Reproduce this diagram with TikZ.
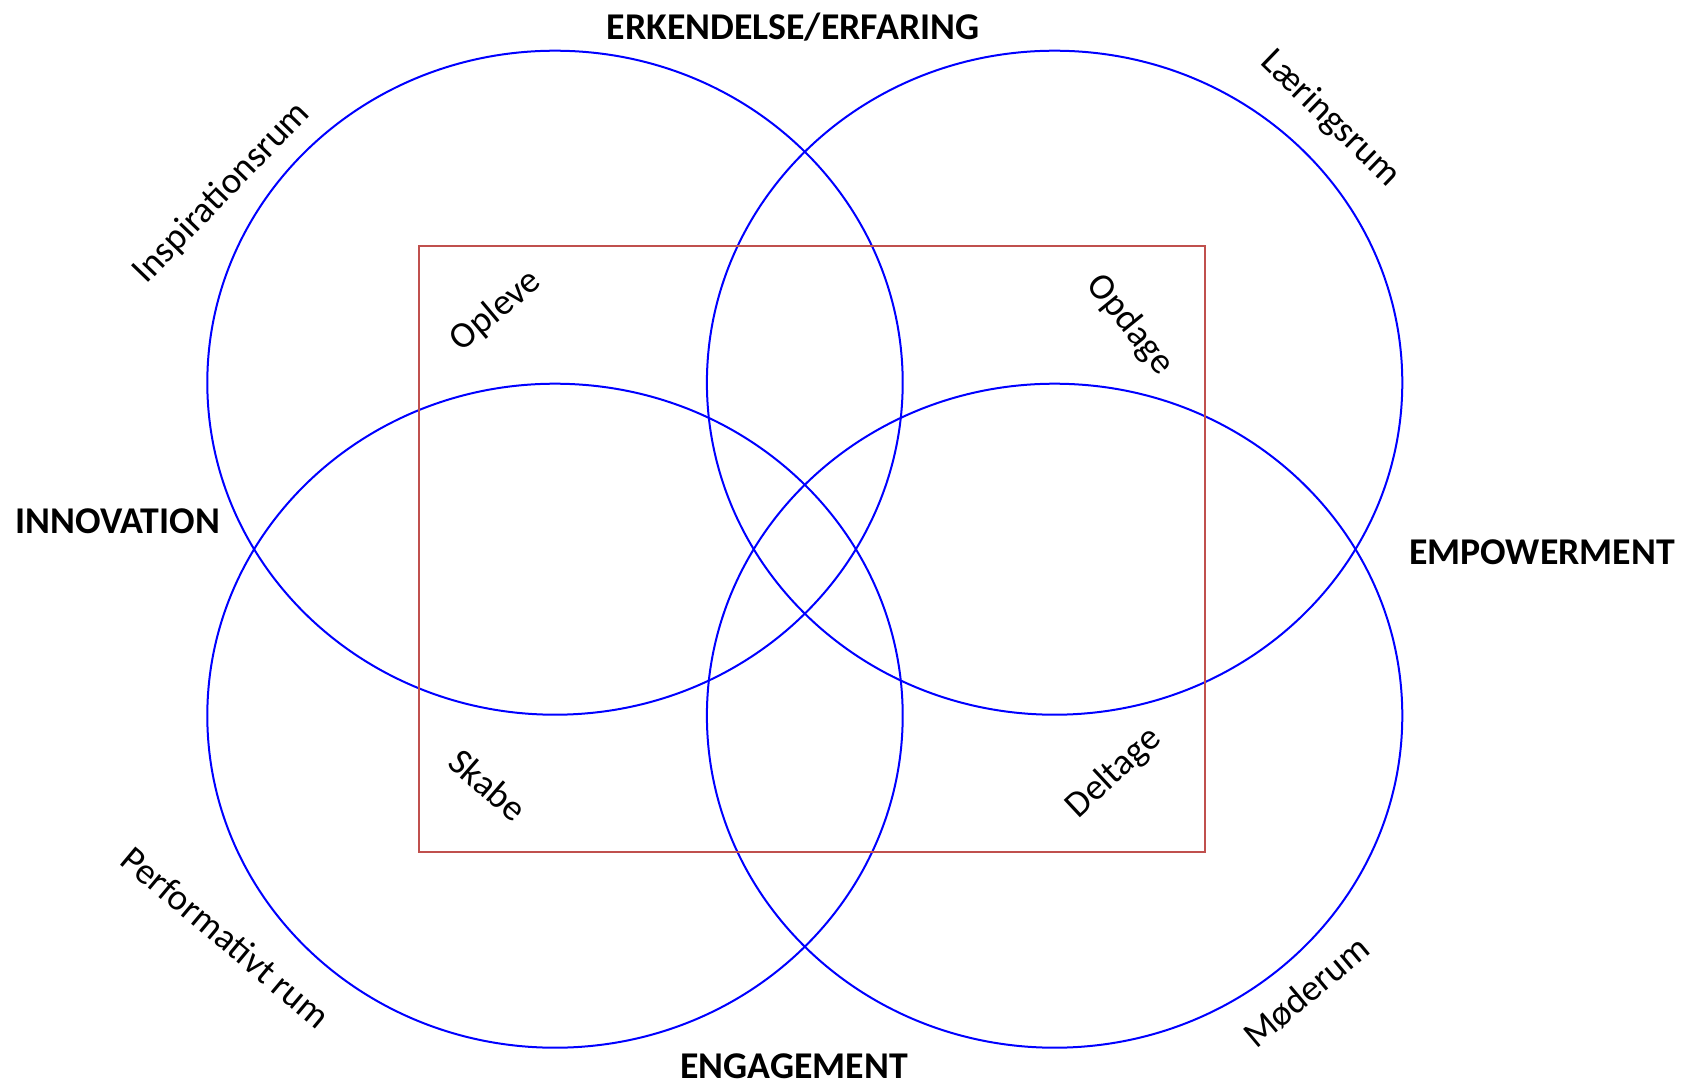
\documentclass[tikz,border=0pt]{standalone}
\usepackage{fontspec}
\setmainfont{Carlito}
\definecolor{ringblue}{RGB}{0,0,255}
\definecolor{boxred}{RGB}{192,80,77}
\begin{document}
\begin{tikzpicture}[x=1pt,y=-1pt,
  ring/.style={draw=ringblue,line width=2pt},
  frame/.style={draw=boxred,line width=2.8pt},
  heading/.style={font=\fontsize{37.8}{42}\selectfont\bfseries,inner sep=0pt},
  room/.style={font=\fontsize{37}{42}\selectfont,inner sep=0pt},
  verb/.style={font=\fontsize{37}{42}\selectfont,inner sep=0pt}]
\useasboundingbox (0,0) rectangle (1684,1085);
\fill[white] (0,0) rectangle (1684,1085);

% four overlapping ellipses
\draw[ring] (555,382.7)  ellipse [x radius=347.7, y radius=332];
\draw[ring] (1054.6,382.7) ellipse [x radius=347.7, y radius=332];
\draw[ring] (555,715.7)  ellipse [x radius=347.7, y radius=332];
\draw[ring] (1054.6,715.7) ellipse [x radius=347.7, y radius=332];

% central frame
\draw[frame] (419,246) rectangle (1205,852);

% axis headings
\node[heading] (erk) at (793,27) {ERKENDELSE/ERFARING};
\node[heading] (inn) at (118,521) {INNOVATION};
\node[heading] (emp) at (1542,552) {EMPOWERMENT};
\node[heading] (eng) at (794,1066) {ENGAGEMENT};

% rooms along the outer rims
\node[room,rotate=46] (insp) at (222,193) {Inspirationsrum};
\node[room,rotate=-44] (laer) at (1330,119) {Læringsrum};
\node[room,rotate=-40] (perf) at (226,937) {Performativt rum};
\node[room,rotate=40] (moed) at (1306,992) {Møderum};

% activities in the frame corners
\node[verb,rotate=40] (opl) at (496,311) {Opleve};
\node[verb,rotate=-51] (opd) at (1130,325) {Opdage};
\node[verb,rotate=-41] (skb) at (488,785) {Skabe};
\node[verb,rotate=43] (dlt) at (1114,773) {Deltage};
\end{tikzpicture}
\end{document}
